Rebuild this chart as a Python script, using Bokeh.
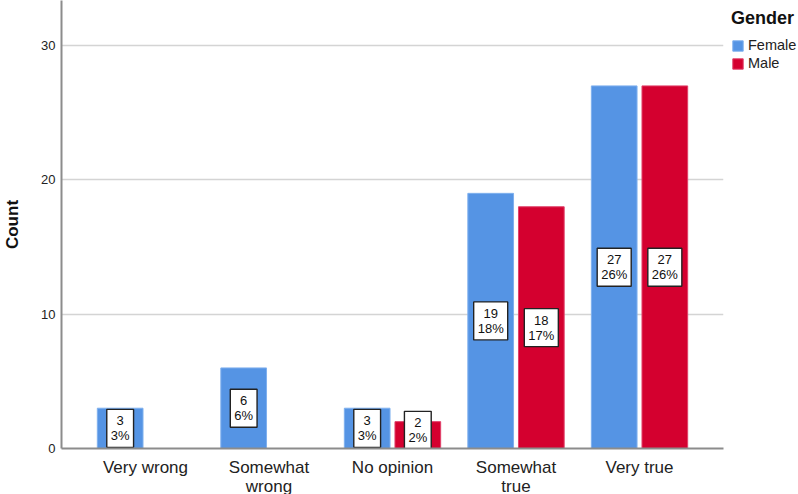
from bokeh.plotting import figure
from bokeh.models import FactorRange, Range1d, ColumnDataSource, Legend, LegendItem, FixedTicker
from bokeh.transform import dodge
from bokeh.core.properties import value
from bokeh.embed import file_html
from bokeh.resources import INLINE

categories = ["Very wrong", "Somewhat\nwrong", "No opinion", "Somewhat\ntrue", "Very true"]
female = [3, 6, 3, 19, 27]
male = [0, 0, 2, 18, 27]
y_ticks = [0, 10, 20, 30]

FONT = "Liberation Sans"
BLUE = "#5594E4"
RED = "#D4002F"

total = sum(female) + sum(male)

p = figure(
    x_range=FactorRange(factors=categories, range_padding=0.18, range_padding_units="absolute"),
    y_range=Range1d(0, 33.36),
    frame_width=662, frame_height=448,
    min_border_left=40, min_border_top=0, min_border_bottom=46, min_border_right=0,
    output_backend="svg", toolbar_location=None,
)
p.outline_line_color = None
p.background_fill_color = "white"
p.border_fill_color = "white"

off = 0.205
w = 0.37

src_f = ColumnDataSource(dict(cat=categories, val=female))
src_m = ColumnDataSource(dict(cat=categories, val=male))
rf = p.vbar(x=dodge("cat", -off, range=p.x_range), top="val", width=w, source=src_f,
            fill_color=BLUE, line_color="#7FB0EE", line_width=1)
rm = p.vbar(x=dodge("cat", off, range=p.x_range), top="val", width=w, source=src_m,
            fill_color=RED, line_color="#E0406A", line_width=1)

def label_source(vals):
    cats, ys, txt = [], [], []
    for c, v in zip(categories, vals):
        if v > 0:
            cats.append(c)
            ys.append(max(v / 2, 1.35))
            txt.append(f"{v}\n{round(100 * v / total)}%")
    return ColumnDataSource(dict(cat=cats, y=ys, t=txt))

for vals, d in ((female, -off), (male, off)):
    p.text(x=dodge("cat", d, range=p.x_range), y="y", text="t", source=label_source(vals),
           text_align="center", text_baseline="middle", text_font=value(FONT),
           text_font_size="13px", text_color="#111111", text_line_height=1.0,
           background_fill_color="white", border_line_color="#222222", border_line_width=1.4,
           padding=4)

p.yaxis.ticker = FixedTicker(ticks=y_ticks)
p.yaxis.axis_label = "Count"
p.yaxis.axis_label_text_font = FONT
p.yaxis.axis_label_text_font_style = "bold"
p.yaxis.axis_label_text_font_size = "17px"
p.yaxis.axis_label_text_color = "#111111"
p.yaxis.axis_label_standoff = 16
p.yaxis.major_label_text_font = FONT
p.yaxis.major_label_text_font_size = "13px"
p.yaxis.major_label_text_color = "#222222"
p.yaxis.major_label_standoff = 0
p.yaxis.major_tick_line_color = None
p.yaxis.minor_tick_line_color = None
p.yaxis.axis_line_color = "#8c8c8c"
p.yaxis.axis_line_width = 2

p.xaxis.major_label_text_font = FONT
p.xaxis.major_label_text_font_size = "17px"
p.xaxis.major_label_text_color = "#222222"
p.xaxis.major_label_text_line_height = 1.0
p.xaxis.major_label_standoff = 3
p.xaxis.major_tick_line_color = None
p.xaxis.axis_line_color = "#8c8c8c"
p.xaxis.axis_line_width = 2

p.xgrid.grid_line_color = None
p.ygrid.grid_line_color = "#d4d4d4"
p.ygrid.grid_line_width = 1.5

legend = Legend(items=[LegendItem(label="Female", renderers=[rf]), LegendItem(label="Male", renderers=[rm])],
                title="Gender", title_text_font=FONT, title_text_font_style="bold",
                title_text_font_size="18px", title_text_color="#111111", title_standoff=8,
                label_text_font=FONT, label_text_font_size="14.5px", label_text_color="#222222",
                glyph_width=13, glyph_height=13, label_standoff=4, label_height=13,
                spacing=2, padding=0, margin=8, border_line_color=None,
                background_fill_alpha=0, location="top_left")
p.add_layout(legend, "right")

open("out.html", "w").write(file_html(p, INLINE))
